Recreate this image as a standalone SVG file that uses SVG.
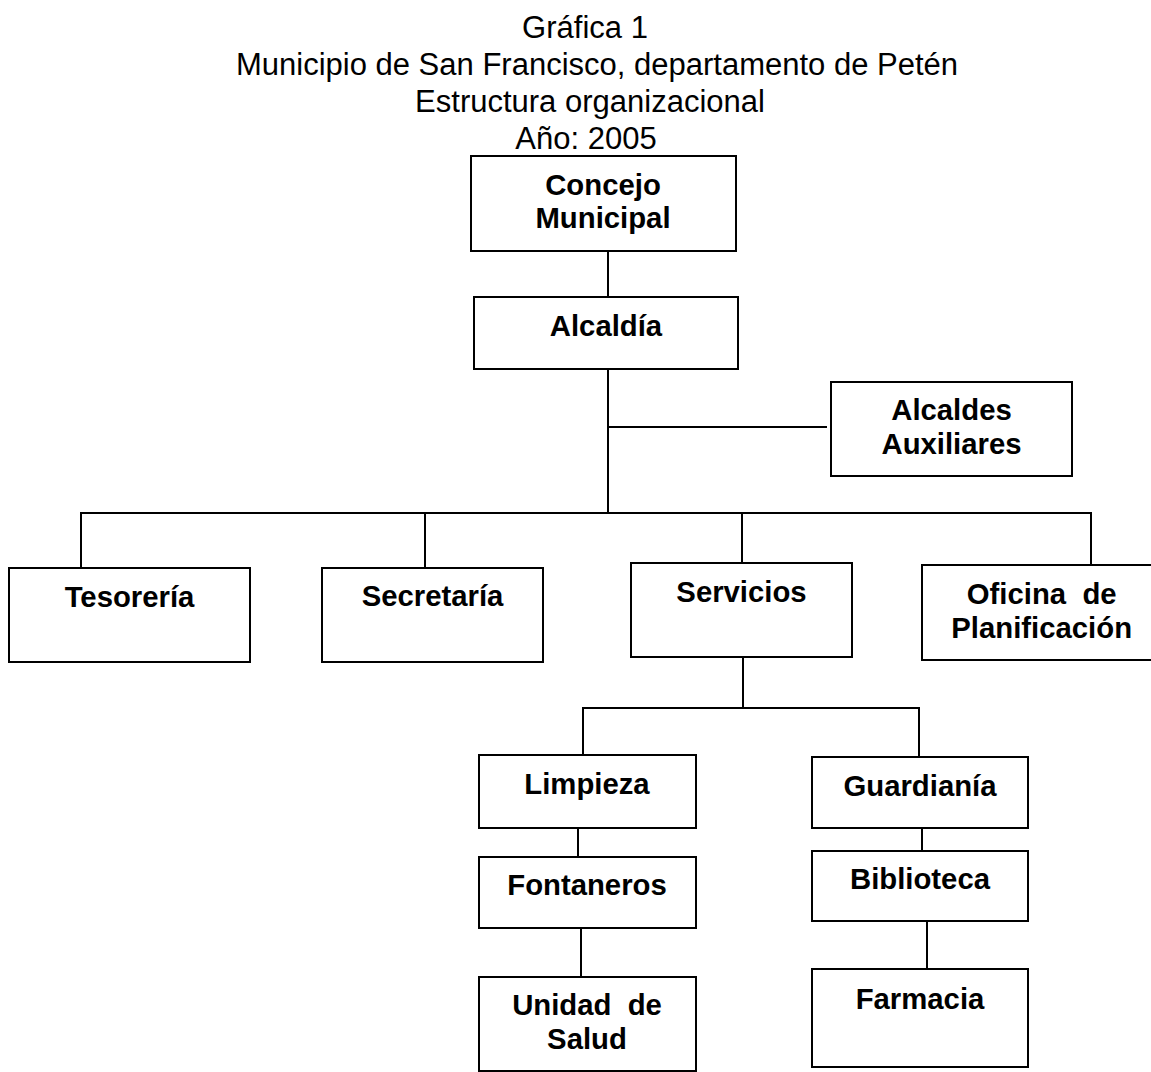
<svg xmlns="http://www.w3.org/2000/svg" width="1151" height="1072" viewBox="0 0 1151 1072">
<style>
.t{font-family:"Liberation Sans",Arial,sans-serif;font-size:31px;fill:#000;text-anchor:middle}
.n{font-family:"Liberation Sans",Arial,sans-serif;font-size:29.3px;font-weight:bold;fill:#000;text-anchor:middle;white-space:pre}
.b{fill:#fff;stroke:#000;stroke-width:2}
.c line{stroke:#000;stroke-width:2}
</style>
<rect width="1151" height="1072" fill="#fff"/>
<g id="title">
<text class="t" x="585" y="37.5">Gráfica 1</text>
<text class="t" x="597" y="75">Municipio de San Francisco, departamento de Petén</text>
<text class="t" x="590" y="111.5">Estructura organizacional</text>
<text class="t" x="586" y="148.5">Año: 2005</text>
</g>
<g id="connectors" class="c">
<line x1="608" y1="251" x2="608" y2="297"/>
<line x1="608" y1="369" x2="608" y2="514"/>
<line x1="608" y1="427" x2="827" y2="427"/>
<line x1="80" y1="513" x2="1092" y2="513"/>
<line x1="81" y1="513" x2="81" y2="568"/>
<line x1="425" y1="513" x2="425" y2="568"/>
<line x1="742" y1="513" x2="742" y2="563"/>
<line x1="1091" y1="513" x2="1091" y2="565"/>
<line x1="743" y1="657" x2="743" y2="709"/>
<line x1="582" y1="708" x2="920" y2="708"/>
<line x1="583" y1="708" x2="583" y2="755"/>
<line x1="919" y1="708" x2="919" y2="757"/>
<line x1="578" y1="828" x2="578" y2="857"/>
<line x1="581" y1="928" x2="581" y2="977"/>
<line x1="922" y1="828" x2="922" y2="851"/>
<line x1="927" y1="921" x2="927" y2="969"/>
</g>
<g id="concejo"><rect class="b" x="471" y="156" width="265" height="95"/><text class="n" x="603" y="195">Concejo</text><text class="n" x="603" y="228">Municipal</text></g>
<g id="alcaldia"><rect class="b" x="474" y="297" width="264" height="72"/><text class="n" x="606" y="335.5">Alcaldía</text></g>
<g id="alcaldes"><rect class="b" x="831" y="382" width="241" height="94"/><text class="n" x="951.5" y="420">Alcaldes</text><text class="n" x="951.5" y="453.5">Auxiliares</text></g>
<g id="tesoreria"><rect class="b" x="9" y="568" width="241" height="94"/><text class="n" x="129.5" y="607">Tesorería</text></g>
<g id="secretaria"><rect class="b" x="322" y="568" width="221" height="94"/><text class="n" x="432.5" y="606">Secretaría</text></g>
<g id="servicios"><rect class="b" x="631" y="563" width="221" height="94"/><text class="n" x="741.5" y="601.5">Servicios</text></g>
<g id="oficina"><rect class="b" x="922" y="565" width="240" height="95"/><text class="n" x="1041.7" y="603.5">Oficina  de</text><text class="n" x="1041.7" y="637.5">Planificación</text></g>
<g id="limpieza"><rect class="b" x="479" y="755" width="217" height="73"/><text class="n" x="587" y="794">Limpieza</text></g>
<g id="guardiania"><rect class="b" x="812" y="757" width="216" height="71"/><text class="n" x="920" y="795.5">Guardianía</text></g>
<g id="fontaneros"><rect class="b" x="479" y="857" width="217" height="71"/><text class="n" x="587" y="895">Fontaneros</text></g>
<g id="biblioteca"><rect class="b" x="812" y="851" width="216" height="70"/><text class="n" x="920" y="888.5">Biblioteca</text></g>
<g id="unidad"><rect class="b" x="479" y="977" width="217" height="94"/><text class="n" x="587" y="1015">Unidad  de</text><text class="n" x="587" y="1048.5">Salud</text></g>
<g id="farmacia"><rect class="b" x="812" y="969" width="216" height="98"/><text class="n" x="920" y="1008.5">Farmacia</text></g>
</svg>
